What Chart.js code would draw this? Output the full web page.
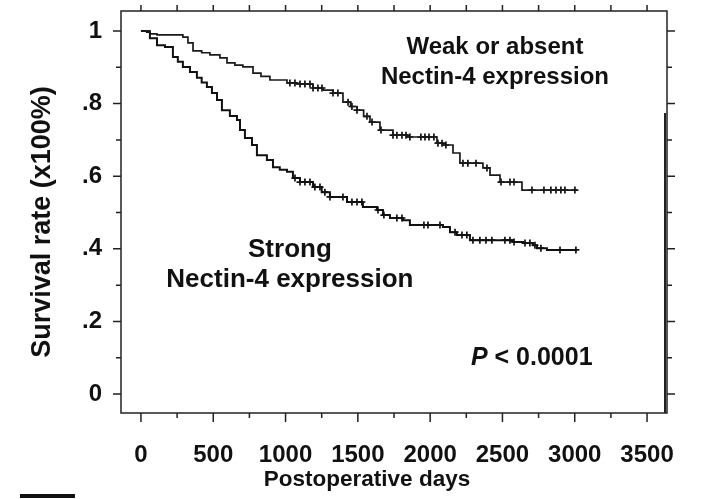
<!DOCTYPE html>
<html>
<head>
<meta charset="utf-8">
<script src="https://cdn.jsdelivr.net/npm/chart.js@4"></script>
<style>
  body { margin:0; background:#fff; }
  #wrap { position:relative; width:703px; height:499px; }
  #scaleBar { position:absolute; left:20px; top:494px; width:55px; height:4px; background:#111; }
  #edgeMark { position:absolute; left:664px; top:113px; width:2px; height:300px; background:#222; }
</style>
</head>
<body>
<div id="wrap">
  <canvas id="km" width="703" height="499"></canvas>
  <div id="edgeMark"></div>
  <div id="scaleBar"></div>
</div>
<script>
/* DATA: Kaplan-Meier steps (day, survival after the drop) */
const weakDays = [0, 62, 111, 290, 325, 360, 420, 477, 546, 595, 650, 705, 775, 830, 892, 1010, 1079, 1190, 1260, 1328, 1397, 1450, 1494, 1540, 1584, 1653, 1743, 1840, 2047, 2088, 2158, 2206, 2365, 2414, 2483, 2635, 3015];
const weakSurv = [1.0, 0.992, 0.989, 0.983, 0.967, 0.945, 0.94, 0.934, 0.926, 0.912, 0.906, 0.901, 0.884, 0.875, 0.865, 0.857, 0.854, 0.843, 0.837, 0.829, 0.804, 0.792, 0.782, 0.765, 0.749, 0.727, 0.713, 0.708, 0.691, 0.686, 0.664, 0.636, 0.623, 0.603, 0.584, 0.562, 0.562];

const strongDays = [0, 41, 62, 111, 166, 221, 255, 290, 339, 387, 420, 456, 491, 526, 560, 615, 664, 685, 719, 768, 802, 871, 913, 960, 1010, 1051, 1100, 1190, 1250, 1307, 1425, 1535, 1632, 1674, 1722, 1812, 1860, 2088, 2137, 2185, 2275, 2573, 2642, 2711, 2739, 2808, 3015];
const strongSurv = [1.0, 0.997, 0.98, 0.961, 0.956, 0.928, 0.915, 0.901, 0.887, 0.871, 0.858, 0.846, 0.829, 0.81, 0.782, 0.766, 0.755, 0.727, 0.705, 0.686, 0.658, 0.645, 0.625, 0.618, 0.612, 0.595, 0.584, 0.57, 0.556, 0.543, 0.529, 0.515, 0.507, 0.493, 0.485, 0.479, 0.466, 0.46, 0.446, 0.438, 0.424, 0.419, 0.416, 0.41, 0.402, 0.397, 0.397];

/* censored observations (days) */
const weakCensor = [1030, 1065, 1100, 1134, 1169, 1190, 1224, 1252, 1328, 1362, 1432, 1459, 1494, 1563, 1598, 1660, 1743, 1770, 1805, 1833, 1860, 1936, 1964, 1992, 2026, 2054, 2082, 2109, 2227, 2261, 2317, 2393, 2490, 2552, 2580, 2704, 2787, 2835, 2870, 2904, 2932, 3001];
const strongCensor = [1065, 1100, 1134, 1169, 1203, 1238, 1272, 1307, 1397, 1459, 1494, 1528, 1639, 1680, 1770, 1805, 1957, 1985, 2068, 2172, 2220, 2254, 2296, 2344, 2386, 2427, 2517, 2552, 2580, 2656, 2690, 2725, 2766, 2898, 3008];

const xTicks = [0, 250, 500, 750, 1000, 1250, 1500, 1750, 2000, 2250, 2500, 2750, 3000, 3250, 3500];
const yTicks = [0, 0.1, 0.2, 0.3, 0.4, 0.5, 0.6, 0.7, 0.8, 0.9, 1.0];

const xTitle = "Postoperative days";
const yTitle = "Survival rate (x100%)";

const FONT = "'Liberation Sans', Arial, sans-serif";

function survAt(days, surv, t){
  let s = surv[0];
  for(let i=0;i<days.length;i++){ if(days[i] <= t) s = surv[i]; }
  return s;
}

const pts = (days, surv) => days.map((d,i) => ({x:d, y:surv[i]}));
const censorPts = (cens, days, surv) => cens.map(t => ({x:t, y:survAt(days, surv, t)}));

/* frame, outward ticks, axis titles and text labels */
const framePlugin = {
  id: "frame",
  afterDraw(chart){
    const {ctx, chartArea:a, scales:{x, y}} = chart;
    ctx.save();
    ctx.strokeStyle = "#222";
    ctx.lineWidth = 1.5;
    ctx.strokeRect(a.left, a.top, a.right-a.left, a.bottom-a.top);
    ctx.beginPath();
    xTicks.forEach(v => {
      const px = x.getPixelForValue(v);
      const big = v % 500 === 0;
      ctx.moveTo(px, a.bottom); ctx.lineTo(px, a.bottom + (big ? 9 : 5));
      ctx.moveTo(px, a.top); ctx.lineTo(px, a.top - 6);
    });
    yTicks.forEach(v => {
      const py = y.getPixelForValue(v);
      const big = Math.round(v*10) % 2 === 0;
      ctx.moveTo(a.left, py); ctx.lineTo(a.left - (big ? 8 : 5), py);
      ctx.moveTo(a.right, py); ctx.lineTo(a.right + (big ? 8 : 5), py);
    });
    ctx.stroke();

    ctx.fillStyle = "#111";
    ctx.textAlign = "center";
    ctx.textBaseline = "middle";

    // axis titles
    ctx.font = "bold 22.5px " + FONT;
    ctx.fillText(xTitle, 367, 480);
    ctx.save();
    ctx.translate(43, 222);
    ctx.rotate(-Math.PI/2);
    ctx.font = "bold 27px " + FONT;
    ctx.fillText(yTitle, 0, 0);
    ctx.restore();

    ctx.font = "bold 24px " + FONT;
    ctx.fillText("Weak or absent", x.getPixelForValue(2448), y.getPixelForValue(0.956));
    ctx.fillText("Nectin-4 expression", x.getPixelForValue(2448), y.getPixelForValue(0.873));
    ctx.font = "bold 26px " + FONT;
    ctx.fillText("Strong", x.getPixelForValue(1030), y.getPixelForValue(0.397));
    ctx.fillText("Nectin-4 expression", x.getPixelForValue(1030), y.getPixelForValue(0.314));

    ctx.textAlign = "left";
    const px = x.getPixelForValue(2282), py = y.getPixelForValue(0.099);
    ctx.font = "italic bold 25px " + FONT;
    ctx.fillText("P", px, py);
    const w = ctx.measureText("P ").width;
    ctx.font = "bold 25px " + FONT;
    ctx.fillText("< 0.0001", px + w, py);
    ctx.restore();
  }
};

new Chart(document.getElementById("km"), {
  type: "line",
  data: {
    datasets: [
      {label:"Weak or absent", data:pts(weakDays, weakSurv), stepped:true, borderColor:"#1a1a1a", borderWidth:1.7, pointRadius:0, fill:false},
      {label:"Strong", data:pts(strongDays, strongSurv), stepped:true, borderColor:"#111", borderWidth:2, pointRadius:0, fill:false},
      {type:"scatter", label:"weak censored", data:censorPts(weakCensor, weakDays, weakSurv), pointStyle:"cross", pointRadius:3.5, borderColor:"#111", borderWidth:1.7, showLine:false},
      {type:"scatter", label:"strong censored", data:censorPts(strongCensor, strongDays, strongSurv), pointStyle:"cross", pointRadius:3.5, borderColor:"#111", borderWidth:1.7, showLine:false}
    ]
  },
  options: {
    responsive:false,
    animation:false,
    devicePixelRatio:1,
    layout:{padding:{top:11, right:36, left:0, bottom:0}},
    plugins:{legend:{display:false}, tooltip:{enabled:false}},
    scales:{
      x:{
        type:"linear", min:-138, max:3638,
        afterBuildTicks: s => { s.ticks = xTicks.map(v => ({value:v})); },
        afterFit: s => { s.height = 86; s.paddingLeft = 0; s.paddingRight = 0; },
        grid:{display:false, drawTicks:false},
        border:{display:false},
        ticks:{
          autoSkip:false, maxRotation:0, padding:28, color:"#111",
          font:{family:FONT, size:24, weight:"bold"},
          callback: v => v % 500 === 0 ? String(v) : ""
        }
      },
      y:{
        type:"linear", min:-0.052, max:1.055,
        afterBuildTicks: s => { s.ticks = yTicks.map(v => ({value:v})); },
        afterFit: s => { s.width = 121; s.paddingTop = 0; s.paddingBottom = 0; },
        grid:{display:false, drawTicks:false},
        border:{display:false},
        ticks:{
          autoSkip:false, padding:19, color:"#111",
          font:{family:FONT, size:24, weight:"bold"},
          callback: v => {
            const k = Math.round(v*10);
            if(k % 2 !== 0) return "";
            if(k === 0) return "0";
            if(k === 10) return "1";
            return "." + k;
          }
        }
      }
    }
  },
  plugins:[framePlugin]
});
</script>
</body>
</html>
